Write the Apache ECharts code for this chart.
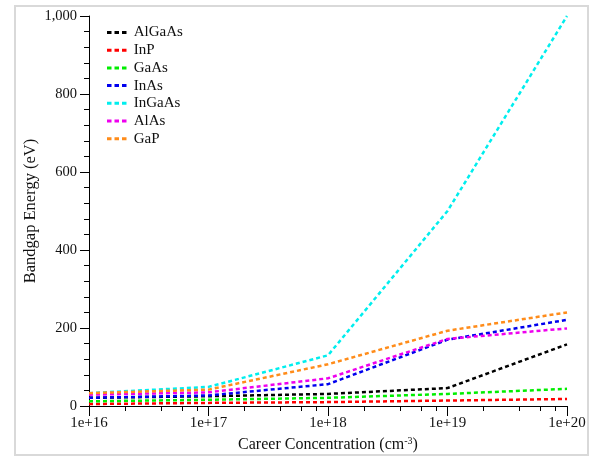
<!DOCTYPE html>
<html>
<head>
<meta charset="utf-8">
<script src="https://cdn.jsdelivr.net/npm/echarts@6/dist/echarts.min.js"></script>
<style>
html,body{margin:0;padding:0;background:#fff;}
#chart{width:596px;height:458px;}
</style>
</head>
<body>
<div id="chart"></div>
<script>
var concentrations = [1e16, 1e17, 1e18, 1e19, 1e20];
var seriesNames = ['AlGaAs', 'InP', 'GaAs', 'InAs', 'InGaAs', 'AlAs', 'GaP'];
var AlGaAs = [21, 25, 31, 46, 158];
var InP    = [5, 8, 10, 14, 18];
var GaAs   = [12, 16, 21, 31, 44];
var InAs   = [21, 27, 56, 170, 221];
var InGaAs = [33, 49, 130, 500, 1000];
var AlAs   = [29, 35, 71, 172, 199];
var GaP    = [33, 42, 107, 193, 240];
var xTickLabels = ['1e+16', '1e+17', '1e+18', '1e+19', '1e+20'];
var yTicks = [0, 200, 400, 600, 800, 1000];

var colors = ['#000000', '#ff0000', '#00ee00', '#0000ee', '#00eeee', '#ee00ee', '#ff8c1a'];
var values = [AlGaAs, InP, GaAs, InAs, InGaAs, AlAs, GaP];
var serif = '"Liberation Serif", "Times New Roman", serif';
var dashIcon = 'path://M0,0h4.5v3h-4.5z M7.5,0h4.5v3h-4.5z M15,0h4.5v3h-4.5z';

// minor tick positions in log10 space (2,4,6,8 per decade)
var minorTicks = [];
for (var d = 16; d < 20; d++) {
  [2, 4, 6, 8].forEach(function (k) { minorTicks.push(d + Math.log10(k)); });
}

var series = seriesNames.map(function (name, i) {
  return {
    name: name,
    type: 'line',
    xAxisIndex: 0,
    data: concentrations.map(function (c, j) { return [c, values[i][j]]; }),
    showSymbol: false,
    symbol: 'none',
    color: colors[i],
    lineStyle: { color: colors[i], width: 2.5, type: [4, 3] },
    animation: false
  };
});

var chart = echarts.init(document.getElementById('chart'));
chart.setOption({
  backgroundColor: '#ffffff',
  animation: false,
  graphic: [{
    type: 'rect',
    shape: { x: 15, y: 6, width: 573, height: 449 },
    style: { fill: 'none', stroke: '#d9d9d9', lineWidth: 2 },
    silent: true
  }],
  legend: {
    orient: 'vertical',
    left: 102,
    top: 20,
    itemWidth: 20,
    itemHeight: 3,
    itemGap: 2.7,
    icon: dashIcon,
    data: seriesNames,
    textStyle: { fontFamily: serif, fontSize: 15, lineHeight: 15, color: '#111', padding: [0, 0, 0, 2] }
  },
  grid: { left: 89, right: 29, top: 16, bottom: 46.5 },
  xAxis: [{
    type: 'log',
    logBase: 10,
    min: 1e16,
    max: 1e20,
    name: '{a|Career Concentration (cm}{s|-3}{a|)}',
    nameLocation: 'middle',
    nameGap: 30,
    nameMoveOverlap: false,
    nameTextStyle: {
      rich: {
        a: { fontFamily: serif, fontSize: 16, color: '#111' },
        s: { fontFamily: serif, fontSize: 10, color: '#111', verticalAlign: 'top', padding: [0, 0, 8, 0] }
      }
    },
    axisLine: { lineStyle: { color: '#000', width: 1 } },
    axisTick: { length: 10, lineStyle: { color: '#000' } },
    axisLabel: {
      margin: 10,
      fontFamily: serif, fontSize: 15, color: '#111',
      formatter: function (v) {
        var e = Math.round(Math.log10(v));
        return xTickLabels[e - 16];
      }
    },
    splitLine: { show: false },
    minorTick: { show: false }
  }, {
    type: 'value',
    min: 16,
    max: 20,
    position: 'bottom',
    axisLine: { show: false },
    axisTick: { show: true, length: 5, lineStyle: { color: '#000' }, customValues: minorTicks },
    axisLabel: { show: false },
    splitLine: { show: false }
  }],
  yAxis: {
    type: 'value',
    min: yTicks[0],
    max: yTicks[yTicks.length - 1],
    interval: 200,
    name: 'Bandgap Energy (eV)',
    nameLocation: 'middle',
    nameGap: 50,
    nameMoveOverlap: false,
    nameTextStyle: { fontFamily: serif, fontSize: 16.5, color: '#111' },
    axisLine: { show: true, lineStyle: { color: '#000', width: 1 } },
    axisTick: { show: true, length: 9, lineStyle: { color: '#000' } },
    minorTick: { show: true, splitNumber: 5, length: 5, lineStyle: { color: '#000' } },
    axisLabel: { margin: 12, fontFamily: serif, fontSize: 14.5, color: '#111' },
    splitLine: { show: false }
  },
  series: series
});
</script>
</body>
</html>
